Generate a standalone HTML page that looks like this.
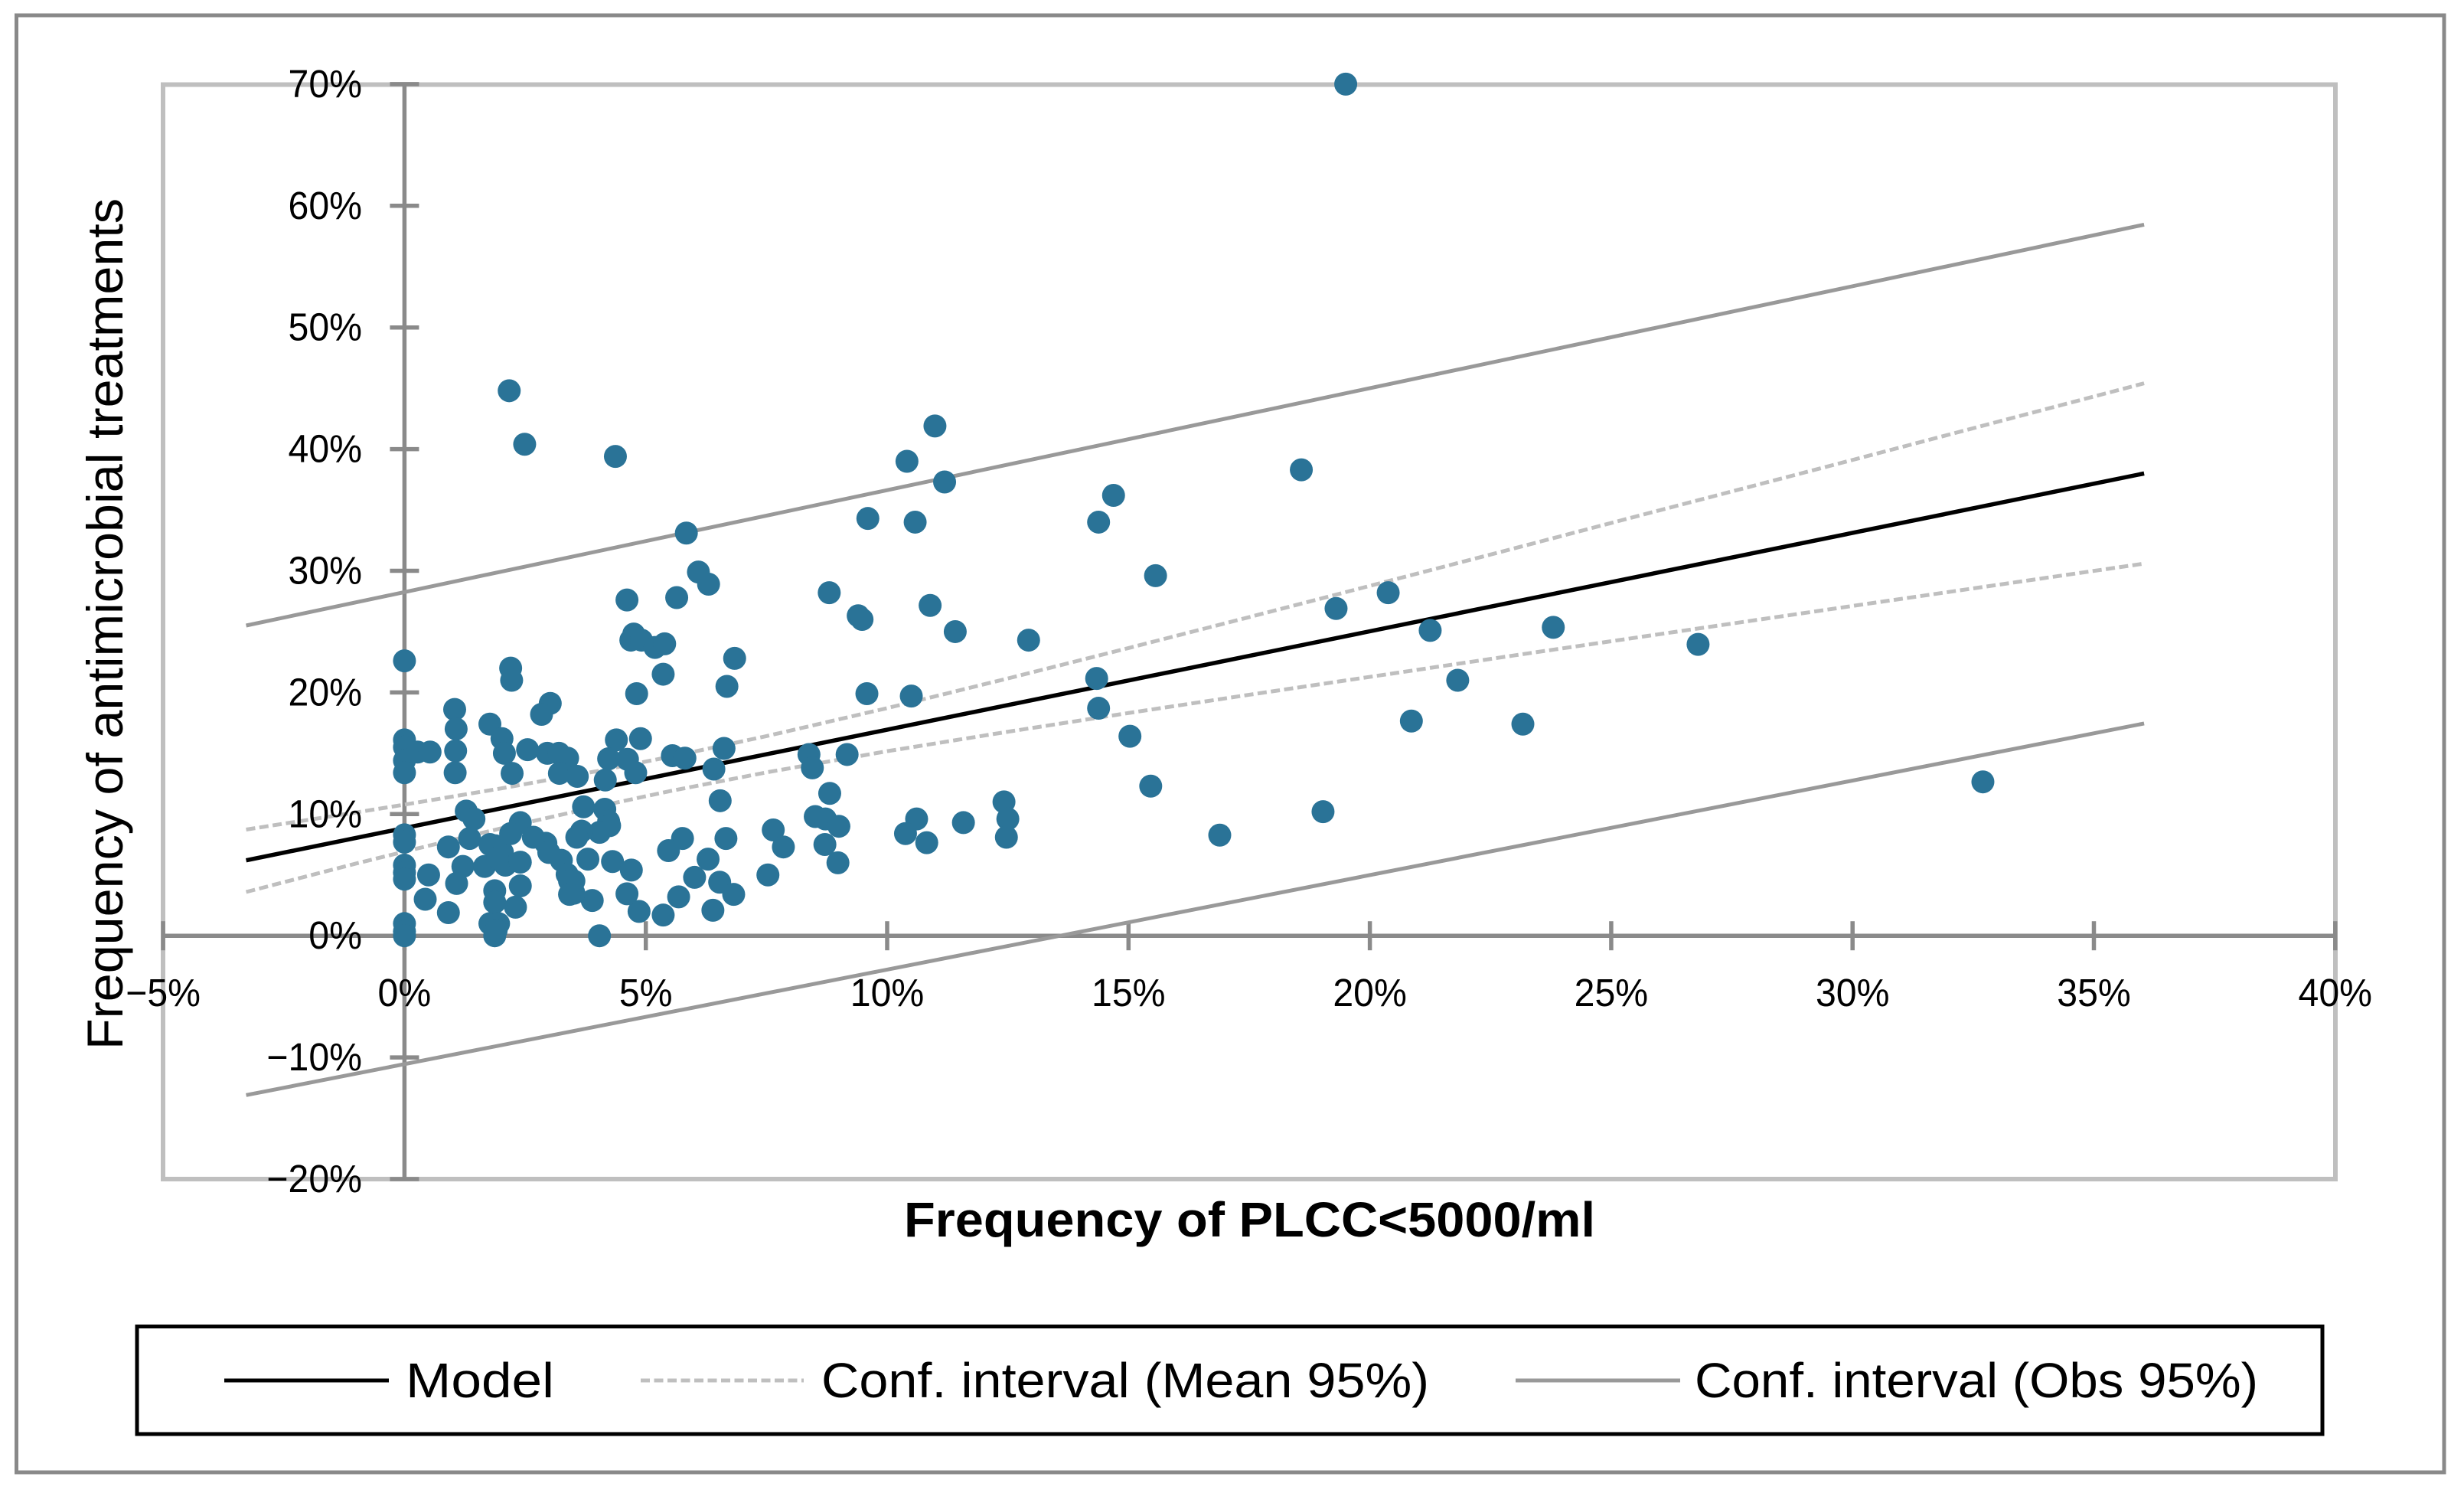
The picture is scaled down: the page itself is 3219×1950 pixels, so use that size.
<!DOCTYPE html>
<html lang="en">
<head>
<meta charset="utf-8">
<title>Frequency of antimicrobial treatments vs frequency of PLCC&lt;5000/ml</title>
<style>
  html, body { margin: 0; padding: 0; background: #ffffff; }
  svg { display: block; font-family: "Liberation Sans", sans-serif; }
</style>
</head>
<body>
<svg id="chart" xmlns="http://www.w3.org/2000/svg" width="3219" height="1950" viewBox="0 0 3219 1950">
  <rect x="0" y="0" width="3219" height="1950" fill="#ffffff"/>
  <rect x="21.5" y="20" width="3171.5" height="1903" fill="none" stroke="#898989" stroke-width="5"/>
  <rect x="213" y="110.5" width="2838" height="1429.5" fill="none" stroke="#BFBFBF" stroke-width="6"/>
  <g id="axes"></g>
  <g id="lines"></g>
  <g id="points"></g>
  <g id="tick-labels"></g>
  <text transform="translate(160 815) rotate(-90)" text-anchor="middle" font-size="66" fill="#000" textLength="1112" lengthAdjust="spacingAndGlyphs">Frequency of antimicrobial treatments</text>
  <text x="1181" y="1615" font-size="64" font-weight="bold" fill="#000" textLength="903" lengthAdjust="spacingAndGlyphs">Frequency of PLCC&lt;5000/ml</text>
  <g>
    <rect x="179" y="1732.5" width="2855" height="140.5" fill="#fff" stroke="#000" stroke-width="5"/>
    <line x1="293" y1="1803" x2="508" y2="1803" stroke="#000" stroke-width="5"/>
    <text x="530" y="1825" font-size="64" fill="#000" textLength="194" lengthAdjust="spacingAndGlyphs">Model</text>
    <line x1="837" y1="1803" x2="1050" y2="1803" stroke="#BFBFBF" stroke-width="5" stroke-dasharray="12 5.5"/>
    <text x="1073" y="1825" font-size="64" fill="#000" textLength="794" lengthAdjust="spacingAndGlyphs">Conf. interval (Mean 95%)</text>
    <line x1="1980" y1="1803" x2="2195" y2="1803" stroke="#999999" stroke-width="5"/>
    <text x="2214" y="1825" font-size="64" fill="#000" textLength="736" lengthAdjust="spacingAndGlyphs">Conf. interval (Obs 95%)</text>
  </g>
</svg>
<script>
const xTicks = [-5, 0, 5, 10, 15, 20, 25, 30, 35, 40];
const yTicks = [-20, -10, 0, 10, 20, 30, 40, 50, 60, 70];

const lineX = [-3.28, 36.04];
const modelY = [6.2, 38.0];
const obsUpperY = [25.5, 58.45];
const obsLowerY = [-13.1, 17.45];

const meanX = [-3.28, -1, 0, 2, 4, 5.5, 7.5, 10, 12.5, 15, 17.5, 20, 23, 26, 30, 33, 36.04];
const meanUpperY = [8.73, 10.14, 10.78, 12.11, 13.54, 14.71, 16.41, 18.71, 21.15, 23.65, 26.19, 28.76, 31.85, 34.97, 39.11, 42.24, 45.41];
const meanLowerY = [3.6, 5.94, 6.92, 8.83, 10.62, 11.89, 13.43, 15.17, 16.77, 18.31, 19.81, 21.28, 23.05, 24.79, 27.11, 28.84, 30.59];

const pointX = [
  0, 0, 0, 0, 0, 0, 0, 0, 0, 0, 0, 0, 0,
  0.27, 0.53, 1.04, 1.07, 1.06, 1.05,
  2.2, 2.22, 1.77, 2.02, 2.07, 2.23, 2.55, 2.96, 3.2, 3.38, 3.21, 3.58, 3.02, 2.84,
  4.61, 5.84, 6.09, 6.3, 5.64, 4.75, 4.69, 4.91, 5.19, 5.39, 5.36, 4.81, 6.84, 6.68,
  4.89, 4.39, 4.23, 4.62, 4.79, 4.16, 5.55, 5.81, 6.62, 6.41, 6.54, 6.66, 5.76, 5.47, 6.29, 6.01, 6.53, 6.82, 6.39, 5.68, 4.86, 5.36, 4.61,
  4.31, 4.7, 3.89, 4.04, 7.64, 7.85, 7.53,
  3.71, 4.15, 4.23, 4.25, 4.04, 3.67, 3.8, 3.51, 3.51, 3.57,
  1.28, 1.44, 1.35, 0.91, 1.88, 1.21, 1.08, 0.5, 0.43, 0.91, 1.66, 2.09, 2.4, 2.4, 2.4, 2.67, 2.93, 2.99, 3.25, 3.37, 3.42, 3.42,
  1.87, 1.87, 2.3, 1.77, 1.95, 1.87, 1.9, 2.03, 2.2, 1.77, 1.93,
  8.38, 8.45, 9.17, 8.81, 8.51, 8.72, 9, 8.71, 8.98, 10.61, 10.38, 10.82, 11.58, 12.42, 12.5, 12.47,
  10.99, 10.41, 11.19, 9.6, 10.58, 14.69, 14.38, 18.58, 15.56, 8.8, 9.4, 9.48, 10.89, 11.41, 12.93, 19.3, 20.38, 21.25, 21.82, 20.86, 23.17, 14.34, 14.38, 15.03, 9.58, 10.5, 15.46, 19.03, 16.89,
  19.5, 23.8, 26.8, 32.7, 2.17, 2.49, 4.37
];
const pointY = [
  22.6, 16.1, 15.5, 14.4, 13.4, 8.3, 7.7, 5.8, 5.2, 4.65, 1, 0.35, 0,
  15.1, 15.1, 18.6, 17, 15.2, 13.4,
  22, 21, 17.4, 16.2, 15, 13.35, 15.3, 15, 15, 14.6, 13.35, 13.1, 19.1, 18.2,
  27.6, 33.1, 29.9, 28.9, 27.8, 24.8, 24.3, 24.3, 23.7, 24, 21.5, 19.9, 22.8, 20.5,
  16.2, 16.1, 14.55, 14.5, 13.4, 12.8, 14.8, 14.6, 15.4, 13.7, 11.1, 8, 8, 7, 6.3, 4.8, 4.4, 3.4, 2.1, 3.2, 2, 1.7, 3.45,
  6.1, 5.4, 2.9, 0, 8.7, 7.3, 5,
  10.6, 10.4, 9.4, 9.05, 8.5, 8.6, 6.3, 4.5, 3.5, 8.1,
  10.25, 9.6, 8, 7.3, 7.4, 5.7, 4.3, 5, 3, 1.9, 5.7, 5.8, 6.05, 4.1, 9.3, 8.1, 7.6, 6.85, 6.2, 5.05, 4.5, 3.4,
  3.7, 2.75, 2.35, 1, 1, 0, 0.45, 6.85, 8.4, 7.5, 6.4,
  14.9, 13.8, 14.9, 11.7, 9.8, 9.6, 9, 7.5, 6, 9.6, 8.4, 7.65, 9.3, 11, 9.6, 8.1,
  41.9, 39, 37.3, 34.3, 34, 36.2, 34, 38.3, 29.6, 28.2, 26.3, 26, 27.15, 25, 24.3, 26.9, 28.2, 25.1, 21, 17.65, 17.4, 21.15, 18.7, 16.4, 19.9, 19.7, 12.3, 10.2, 8.27,
  70, 25.35, 23.95, 12.65, 44.8, 40.4, 39.4
];

const SVG_NS = 'http://www.w3.org/2000/svg';
const X_ORIGIN = 528.4, X_PER_UNIT = 63.06;
const Y_ORIGIN = 1222.2, Y_PER_UNIT = 15.89;
function xScale(v) { return X_ORIGIN + X_PER_UNIT * v; }
function yScale(v) { return Y_ORIGIN - Y_PER_UNIT * v; }
function pctLabel(v) { return (v < 0 ? '\u2212' + Math.abs(v) : String(v)) + '%'; }

function makeLine(x1, y1, x2, y2, stroke, width) {
  const el = document.createElementNS(SVG_NS, 'line');
  el.setAttribute('x1', x1);
  el.setAttribute('y1', y1);
  el.setAttribute('x2', x2);
  el.setAttribute('y2', y2);
  el.setAttribute('stroke', stroke);
  el.setAttribute('stroke-width', width);
  return el;
}
function makePolyline(xs, ys, stroke, width, dash) {
  const el = document.createElementNS(SVG_NS, 'polyline');
  el.setAttribute('points', xs.map(function (x, i) { return xScale(x) + ',' + yScale(ys[i]); }).join(' '));
  el.setAttribute('fill', 'none');
  el.setAttribute('stroke', stroke);
  el.setAttribute('stroke-width', width);
  if (dash) el.setAttribute('stroke-dasharray', dash);
  return el;
}
function makeLabel(x, y, str, anchor, parent) {
  const el = document.createElementNS(SVG_NS, 'text');
  el.setAttribute('x', x);
  el.setAttribute('y', y);
  el.setAttribute('text-anchor', anchor);
  el.setAttribute('font-size', '51');
  el.setAttribute('fill', '#000');
  el.textContent = str;
  parent.appendChild(el);
  el.setAttribute('textLength', (el.getComputedTextLength() * 0.945).toFixed(1));
  el.setAttribute('lengthAdjust', 'spacingAndGlyphs');
  return el;
}

const axesG = document.getElementById('axes');
const xAxisLine = makeLine(xScale(xTicks[0]), yScale(0), xScale(xTicks[xTicks.length - 1]), yScale(0), '#8A8A8A', 5.5);


axesG.appendChild(xAxisLine);
const yAxisLine = makeLine(xScale(0), yScale(yTicks[0]), xScale(0), yScale(yTicks[yTicks.length - 1]), '#8A8A8A', 5.5);


axesG.appendChild(yAxisLine);

const labelsG = document.getElementById('tick-labels');
xTicks.forEach(function (t) {
  const tick = makeLine(xScale(t), yScale(0) - 19, xScale(t), yScale(0) + 19, '#8A8A8A', 5.5);
  
  
  axesG.appendChild(tick);
  const label = makeLabel(xScale(t), 1314, pctLabel(t), 'middle', labelsG);
  
  
});
yTicks.forEach(function (t) {
  const tick = makeLine(xScale(0) - 19, yScale(t), xScale(0) + 19, yScale(t), '#8A8A8A', 5.5);
  
  
  axesG.appendChild(tick);
  const label = makeLabel(473, yScale(t) + 17, pctLabel(t), 'end', labelsG);
  
  
});

const linesG = document.getElementById('lines');
const obsUpper = makePolyline(lineX, obsUpperY, '#999999', 5);


linesG.appendChild(obsUpper);
const obsLower = makePolyline(lineX, obsLowerY, '#999999', 5);


linesG.appendChild(obsLower);
const meanUpper = makePolyline(meanX, meanUpperY, '#BFBFBF', 5, '12 5.5');


linesG.appendChild(meanUpper);
const meanLower = makePolyline(meanX, meanLowerY, '#BFBFBF', 5, '12 5.5');


linesG.appendChild(meanLower);
const modelLine = makePolyline(lineX, modelY, '#000000', 5.5);


linesG.appendChild(modelLine);

const pointsG = document.getElementById('points');
pointX.forEach(function (x, i) {
  const c = document.createElementNS(SVG_NS, 'circle');
  c.setAttribute('cx', xScale(x));
  c.setAttribute('cy', yScale(pointY[i]));
  c.setAttribute('r', 15);
  c.setAttribute('fill', '#2A7397');
  
  
  pointsG.appendChild(c);
});
</script>
</body>
</html>
